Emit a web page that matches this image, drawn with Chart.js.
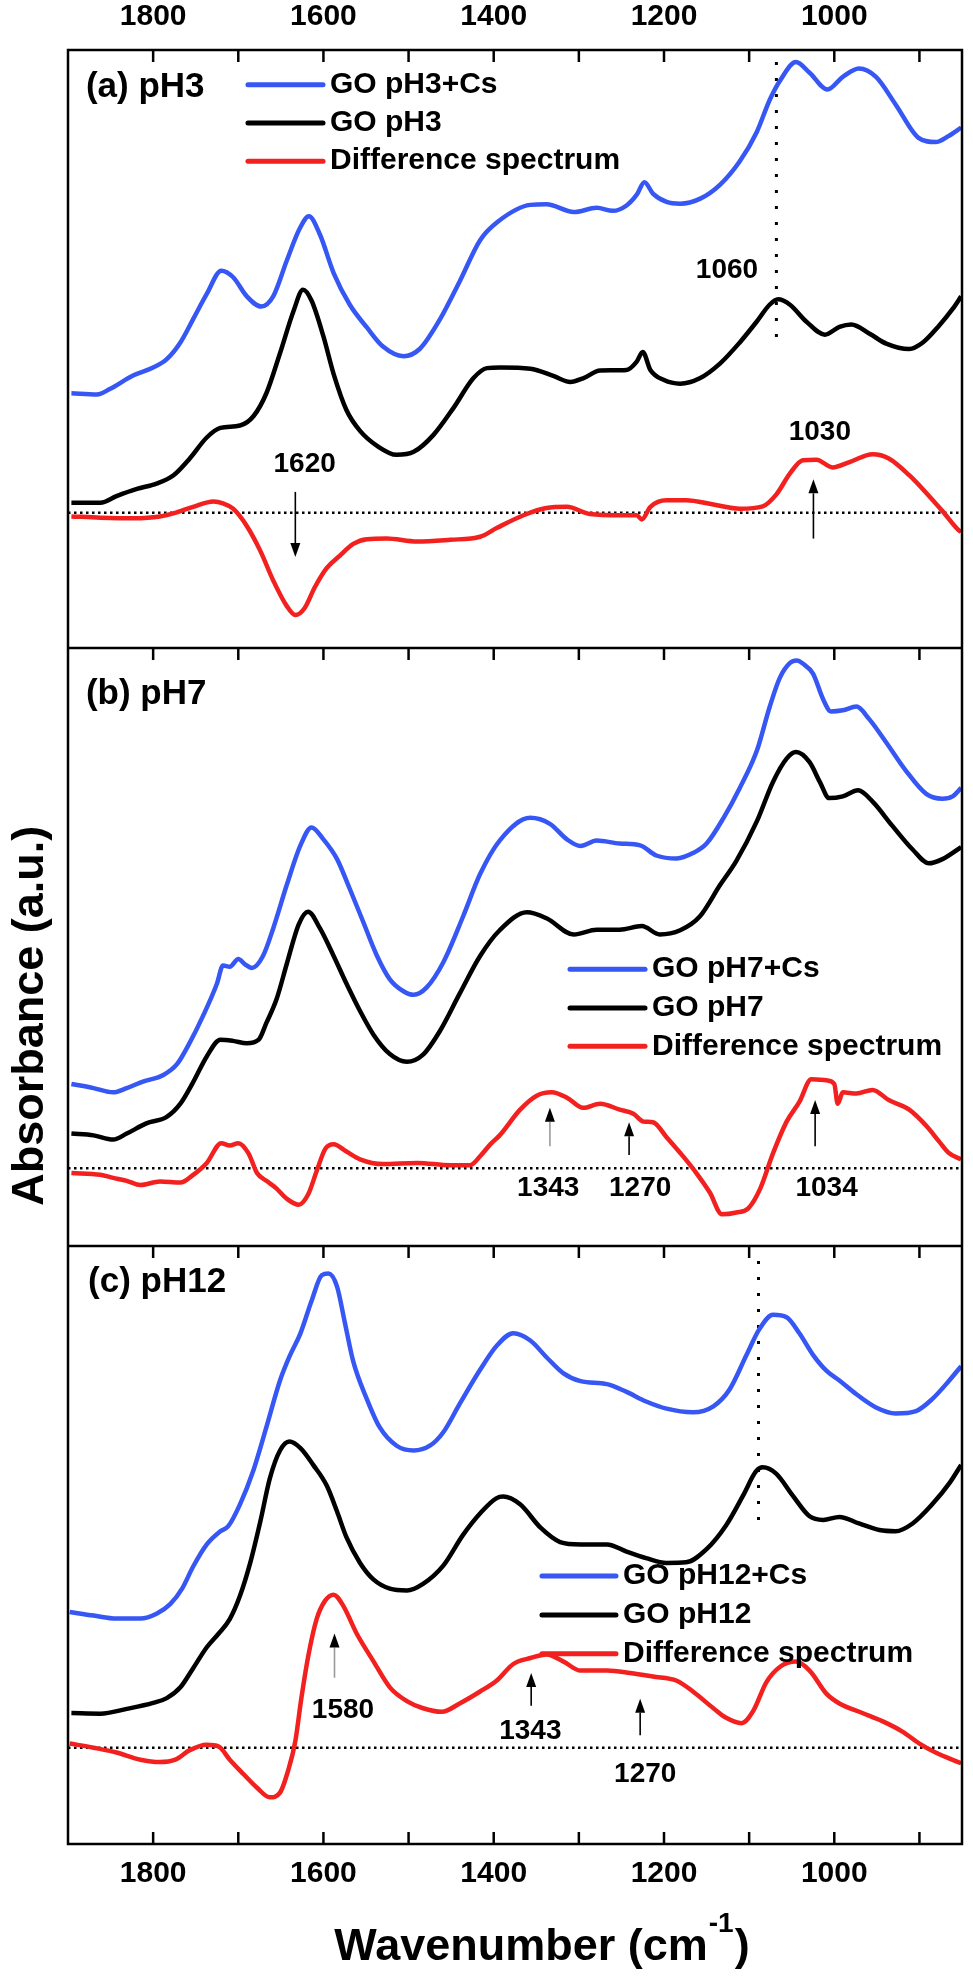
<!DOCTYPE html>
<html>
<head>
<meta charset="utf-8">
<script src="https://cdn.jsdelivr.net/npm/chart.js@4.4.1/dist/chart.umd.min.js"></script>
<style>
html,body{margin:0;padding:0;background:#fff;}
#wrap{width:973px;height:1976px;position:relative;}
canvas{display:block;}
</style>
</head>
<body>
<div id="wrap"><canvas id="c" width="973" height="1976" style="width:973px;height:1976px"></canvas></div>
<script>
// ---------------- data (wavenumber cm-1, absorbance a.u. within each panel) ----------------
const tickValues = [1800, 1600, 1400, 1200, 1000];
const minorTickValues = [1800, 1700, 1600, 1500, 1400, 1300, 1200, 1100, 1000, 900];
const seriesNames = ['GO pH3+Cs', 'GO pH3', 'Difference spectrum',
                     'GO pH7+Cs', 'GO pH7', 'Difference spectrum',
                     'GO pH12+Cs', 'GO pH12', 'Difference spectrum'];
const panelNames = ['(a) pH3', '(b) pH7', '(c) pH12'];

const pH3_Cs = [[1896,4.26],[1866,4.24],[1851,4.33],[1823,4.56],[1800,4.69],[1784,4.83],[1768,5.11],[1753,5.50],[1737,5.92],[1720,6.31],[1706,6.20],[1690,5.88],[1673,5.71],[1659,5.88],[1643,6.48],[1628,7.01],[1617,7.22],[1604,6.91],[1588,6.27],[1569,5.74],[1549,5.36],[1530,5.04],[1506,4.88],[1487,5.00],[1463,5.50],[1440,6.13],[1416,6.82],[1396,7.12],[1357,7.41],[1338,7.42],[1306,7.29],[1279,7.36],[1260,7.31],[1244,7.40],[1232,7.58],[1223,7.79],[1213,7.60],[1197,7.46],[1181,7.43],[1158,7.51],[1134,7.75],[1111,8.14],[1091,8.63],[1076,9.16],[1064,9.48],[1045,9.80],[1029,9.62],[1008,9.34],[990,9.55],[971,9.69],[951,9.55],[928,9.09],[901,8.53],[881,8.46],[866,8.56],[851,8.70]];
const pH3_GO = [[1896,2.43],[1862,2.43],[1843,2.54],[1819,2.66],[1796,2.75],[1776,2.89],[1757,3.17],[1737,3.52],[1721,3.68],[1698,3.72],[1682,3.88],[1667,4.26],[1651,4.93],[1635,5.64],[1624,5.99],[1614,5.81],[1600,5.21],[1588,4.58],[1573,3.98],[1557,3.63],[1537,3.38],[1514,3.23],[1494,3.28],[1471,3.56],[1447,4.02],[1424,4.51],[1408,4.68],[1392,4.69],[1357,4.67],[1330,4.55],[1310,4.45],[1295,4.51],[1275,4.64],[1244,4.65],[1232,4.79],[1225,4.95],[1216,4.65],[1200,4.48],[1181,4.42],[1158,4.51],[1134,4.76],[1111,5.11],[1091,5.46],[1076,5.74],[1066,5.83],[1052,5.74],[1033,5.46],[1011,5.24],[994,5.37],[980,5.41],[958,5.25],[939,5.09],[912,5.00],[896,5.11],[877,5.39],[861,5.67],[851,5.88]];
const pH3_diff = [[1896,2.20],[1862,2.18],[1823,2.17],[1792,2.20],[1772,2.27],[1753,2.36],[1729,2.45],[1718,2.42],[1706,2.33],[1690,2.04],[1674,1.62],[1659,1.13],[1643,0.70],[1633,0.55],[1622,0.67],[1610,1.02],[1596,1.34],[1581,1.54],[1565,1.74],[1549,1.82],[1526,1.83],[1490,1.78],[1451,1.81],[1416,1.86],[1396,2.01],[1365,2.22],[1338,2.34],[1314,2.36],[1287,2.24],[1252,2.22],[1232,2.22],[1226,2.15],[1216,2.36],[1197,2.47],[1174,2.47],[1142,2.40],[1111,2.33],[1084,2.37],[1068,2.57],[1052,2.92],[1037,3.14],[1021,3.15],[1002,3.02],[982,3.11],[955,3.24],[936,3.17],[912,2.89],[893,2.61],[873,2.29],[854,1.97],[851,1.94]];

const pH7_Cs = [[1896,2.71],[1870,2.64],[1847,2.57],[1831,2.64],[1812,2.75],[1788,2.86],[1772,3.04],[1757,3.40],[1741,3.86],[1725,4.39],[1718,4.69],[1710,4.67],[1700,4.80],[1692,4.71],[1684,4.65],[1671,4.85],[1659,5.31],[1643,6.04],[1627,6.70],[1614,7.00],[1600,6.80],[1584,6.47],[1569,5.97],[1553,5.41],[1537,4.85],[1522,4.46],[1506,4.26],[1494,4.20],[1479,4.32],[1459,4.75],[1436,5.51],[1416,6.22],[1393,6.78],[1357,7.16],[1334,7.06],[1314,6.80],[1298,6.69],[1279,6.78],[1252,6.73],[1228,6.70],[1209,6.53],[1185,6.48],[1166,6.57],[1150,6.73],[1130,7.16],[1111,7.66],[1091,8.28],[1076,9.01],[1064,9.50],[1052,9.75],[1044,9.79],[1037,9.74],[1025,9.57],[1013,9.14],[1004,8.94],[990,8.96],[974,9.02],[959,8.81],[939,8.42],[916,7.95],[892,7.56],[873,7.48],[861,7.52],[851,7.66]];
const pH7_GO = [[1896,1.88],[1870,1.85],[1847,1.78],[1831,1.88],[1808,2.05],[1784,2.16],[1768,2.38],[1753,2.74],[1737,3.17],[1721,3.45],[1706,3.43],[1690,3.39],[1676,3.45],[1667,3.73],[1655,4.13],[1643,4.72],[1629,5.38],[1618,5.59],[1604,5.31],[1588,4.85],[1573,4.39],[1557,3.93],[1541,3.53],[1522,3.21],[1502,3.08],[1483,3.20],[1463,3.60],[1440,4.22],[1416,4.85],[1393,5.28],[1361,5.58],[1338,5.48],[1306,5.21],[1279,5.29],[1252,5.29],[1226,5.35],[1205,5.21],[1181,5.28],[1158,5.51],[1134,6.04],[1115,6.44],[1091,7.10],[1072,7.76],[1056,8.15],[1045,8.26],[1029,8.09],[1017,7.76],[1006,7.49],[990,7.52],[972,7.62],[955,7.43],[932,7.03],[908,6.63],[889,6.40],[873,6.47],[851,6.67]];
const pH7_diff = [[1896,1.22],[1862,1.19],[1847,1.14],[1831,1.09],[1815,1.02],[1792,1.08],[1768,1.06],[1753,1.19],[1737,1.39],[1720,1.72],[1710,1.68],[1700,1.72],[1688,1.55],[1678,1.22],[1667,1.09],[1655,0.96],[1643,0.79],[1629,0.69],[1618,0.86],[1608,1.25],[1598,1.62],[1588,1.70],[1573,1.58],[1557,1.45],[1530,1.37],[1490,1.39],[1451,1.35],[1428,1.35],[1416,1.50],[1404,1.70],[1393,1.85],[1369,2.28],[1350,2.51],[1332,2.57],[1314,2.48],[1295,2.31],[1275,2.38],[1252,2.28],[1236,2.21],[1224,2.08],[1213,2.07],[1197,1.82],[1177,1.49],[1162,1.22],[1146,0.89],[1132,0.53],[1115,0.56],[1101,0.63],[1087,0.96],[1072,1.55],[1056,2.08],[1041,2.41],[1027,2.79],[1009,2.77],[1000,2.71],[996,2.38],[990,2.57],[974,2.55],[955,2.61],[936,2.44],[912,2.28],[892,2.01],[877,1.75],[865,1.55],[851,1.45]];

const pH12_Cs = [[1898,3.88],[1870,3.82],[1843,3.77],[1815,3.77],[1796,3.85],[1780,4.01],[1766,4.27],[1753,4.64],[1737,5.01],[1721,5.23],[1712,5.31],[1698,5.68],[1682,6.26],[1667,6.97],[1651,7.75],[1639,8.18],[1627,8.54],[1614,9.08],[1602,9.51],[1594,9.54],[1584,9.32],[1575,8.73],[1565,8.07],[1549,7.44],[1534,6.97],[1514,6.66],[1494,6.58],[1475,6.66],[1459,6.89],[1440,7.36],[1416,7.93],[1396,8.34],[1377,8.54],[1357,8.42],[1338,8.14],[1318,7.87],[1298,7.74],[1267,7.69],[1244,7.56],[1221,7.40],[1197,7.28],[1166,7.22],[1142,7.32],[1123,7.60],[1103,8.18],[1088,8.61],[1072,8.85],[1056,8.81],[1041,8.54],[1025,8.18],[1009,7.91],[994,7.75],[974,7.52],[951,7.30],[928,7.20],[904,7.24],[885,7.44],[865,7.75],[851,7.99]];
const pH12_GO = [[1896,2.19],[1862,2.18],[1831,2.26],[1800,2.36],[1784,2.44],[1768,2.62],[1753,2.94],[1737,3.29],[1723,3.52],[1710,3.76],[1698,4.15],[1686,4.70],[1674,5.40],[1663,6.11],[1651,6.58],[1640,6.73],[1627,6.62],[1612,6.34],[1596,5.99],[1584,5.56],[1573,5.13],[1557,4.70],[1541,4.42],[1522,4.27],[1502,4.24],[1483,4.35],[1459,4.66],[1436,5.17],[1414,5.56],[1397,5.78],[1389,5.81],[1369,5.68],[1345,5.29],[1322,5.05],[1298,5.01],[1267,5.01],[1244,4.89],[1221,4.78],[1197,4.70],[1174,4.71],[1150,4.93],[1127,5.33],[1107,5.83],[1092,6.23],[1084,6.30],[1068,6.19],[1049,5.83],[1029,5.48],[1013,5.42],[994,5.47],[971,5.36],[947,5.25],[928,5.23],[908,5.36],[885,5.68],[865,6.03],[851,6.34]];
const pH12_diff = [[1898,1.68],[1870,1.61],[1843,1.53],[1815,1.41],[1792,1.37],[1774,1.41],[1757,1.57],[1737,1.66],[1723,1.63],[1710,1.41],[1694,1.17],[1678,0.94],[1663,0.78],[1651,0.86],[1641,1.25],[1633,1.72],[1626,2.43],[1618,3.13],[1608,3.76],[1598,4.07],[1588,4.17],[1577,3.99],[1561,3.52],[1541,3.05],[1522,2.62],[1502,2.39],[1483,2.27],[1461,2.21],[1440,2.35],[1416,2.55],[1396,2.74],[1377,3.01],[1357,3.11],[1338,3.17],[1318,3.05],[1298,2.90],[1267,2.90],[1240,2.86],[1213,2.80],[1185,2.73],[1166,2.55],[1142,2.27],[1127,2.11],[1109,2.02],[1095,2.23],[1080,2.70],[1064,2.96],[1045,3.05],[1029,2.90],[1009,2.51],[994,2.35],[967,2.19],[943,2.05],[920,1.88],[900,1.68],[881,1.53],[851,1.35]];

// zero (baseline) level of each difference spectrum and marker lines
const zeroLevels = [2.26, 1.30, 1.61];          // panels a, b, c
const markerLineA = [[1068, 9.80], [1068, 5.13]]; // dotted line at the 1060 band (panel a)
const markerLineC = [[1089, 9.75], [1089, 5.32]]; // dotted line (panel c)

// peak annotations: [text, wavenumber, level]  and arrows: [wavenumber, tail level, head level, grey shaft]
const peakLabelsA = [['1620', 1622, 3.07], ['1030', 1017, 3.61], ['1060', 1126, 6.31]];
const peakLabelsB = [['1343', 1336, 0.97], ['1270', 1228, 0.97], ['1034', 1009, 0.97]];
const peakLabelsC = [['1580', 1577, 2.23], ['1343', 1357, 1.88], ['1270', 1222, 1.17]];
const arrowsA = [[1633, 2.61, 1.52, false], [1024.5, 1.83, 2.82, false]];
const arrowsB = [[1334, 1.67, 2.31, true], [1241, 1.52, 2.07, false], [1022.5, 1.67, 2.44, false]];
const arrowsC = [[1587, 2.78, 3.52, true], [1356, 2.31, 2.86, false], [1228, 1.82, 2.43, false]];

// ---------------- layout / style ----------------
const FONT = '"Liberation Sans", Arial, Helvetica, sans-serif';
const BLUE = '#3657f4', BLACK = '#000000', RED = '#f2201e';
const PANEL = 10;                    // each panel spans 10 a.u.
const offsets = [2 * PANEL, PANEL, 0]; // a, b, c
const X_MIN = 850, X_MAX = 1900;

const curves = [pH3_Cs, pH3_GO, pH3_diff, pH7_Cs, pH7_GO, pH7_diff, pH12_Cs, pH12_GO, pH12_diff];
const colors = [BLUE, BLACK, RED];

const datasets = curves.map((c, i) => ({
  label: seriesNames[i],
  data: c.map(([w, v]) => ({x: w, y: v + offsets[Math.floor(i / 3)]})),
  borderColor: colors[i % 3],
  borderWidth: 4.5,
  pointRadius: 0,
  fill: false,
  cubicInterpolationMode: 'monotone'
}));
zeroLevels.forEach((z, p) => datasets.push({
  label: 'zero', data: [{x: X_MAX, y: z + offsets[p]}, {x: X_MIN, y: z + offsets[p]}],
  borderColor: '#000', borderWidth: 2.5, borderDash: [2.5, 3.5], pointRadius: 0, fill: false
}));
[[markerLineA, 0], [markerLineC, 2]].forEach(([ln, p]) => datasets.push({
  label: 'marker', data: ln.map(([w, v]) => ({x: w, y: v + offsets[p]})),
  borderColor: '#000', borderWidth: 3, borderDash: [3, 13], pointRadius: 0, fill: false
}));

const legendPos = [
  {w1: 1688.6, w2: 1600.5, rows: [9.42, 8.78, 8.14]},
  {w1: 1310.4, w2: 1222.3, rows: [4.63, 3.98, 3.34]},
  {w1: 1343.3, w2: 1256.4, rows: [4.48, 3.83, 3.18]}
];
const panelLabelPos = [[1879, 9.37], [1879, 9.23], [1876.5, 9.40]];

const decorPlugin = {
  id: 'decor',
  afterDatasetsDraw(chart) {
    const {ctx, chartArea: ca, scales: {x, y}} = chart;
    const X = w => x.getPixelForValue(w);
    const Y = v => y.getPixelForValue(v);
    ctx.save();
    // frame and panel separators
    ctx.strokeStyle = '#000';
    ctx.lineWidth = 2.5;
    ctx.strokeRect(ca.left, ca.top, ca.right - ca.left, ca.bottom - ca.top);
    [PANEL, 2 * PANEL].forEach(v => {
      ctx.beginPath(); ctx.moveTo(ca.left, Y(v)); ctx.lineTo(ca.right, Y(v)); ctx.stroke();
    });
    // inward ticks: top of every panel and bottom of the last one
    const TL = 12;
    ctx.lineWidth = 2.5;
    minorTickValues.forEach(t => {
      const px = X(t);
      [3 * PANEL, 2 * PANEL, PANEL].forEach(v => {
        ctx.beginPath(); ctx.moveTo(px, Y(v)); ctx.lineTo(px, Y(v) + TL); ctx.stroke();
      });
      ctx.beginPath(); ctx.moveTo(px, Y(0)); ctx.lineTo(px, Y(0) - TL); ctx.stroke();
    });
    // panel labels
    ctx.fillStyle = '#000';
    ctx.textBaseline = 'middle';
    ctx.textAlign = 'left';
    ctx.font = 'bold 35px ' + FONT;
    panelLabelPos.forEach(([w, v], p) => ctx.fillText(panelNames[p], X(w), Y(v + offsets[p])));
    // legends
    ctx.font = 'bold 30px ' + FONT;
    legendPos.forEach((lg, p) => {
      lg.rows.forEach((r, k) => {
        const py = Y(r + offsets[p]);
        ctx.strokeStyle = colors[k];
        ctx.lineWidth = 5;
        ctx.lineCap = 'round';
        ctx.beginPath(); ctx.moveTo(X(lg.w1), py); ctx.lineTo(X(lg.w2), py); ctx.stroke();
        ctx.fillStyle = '#000';
        ctx.fillText(seriesNames[p * 3 + k], X(lg.w2) + 7, py);
      });
    });
    ctx.lineCap = 'butt';
    // peak labels
    ctx.font = 'bold 28px ' + FONT;
    ctx.textAlign = 'center';
    [peakLabelsA, peakLabelsB, peakLabelsC].forEach((arr, p) => arr.forEach(([t, w, v]) => {
      ctx.fillText(t, X(w), Y(v + offsets[p]));
    }));
    // arrows
    [arrowsA, arrowsB, arrowsC].forEach((arr, p) => arr.forEach(([w, a, b, grey]) => {
      const px = X(w), y1 = Y(a + offsets[p]), y2 = Y(b + offsets[p]);
      const dir = Math.sign(y2 - y1), HL = 14, HW = 5;
      ctx.strokeStyle = grey ? '#9a9a9a' : '#000';
      ctx.lineWidth = 1.6;
      ctx.beginPath(); ctx.moveTo(px, y1); ctx.lineTo(px, y2 - dir * HL); ctx.stroke();
      ctx.fillStyle = '#000';
      ctx.beginPath(); ctx.moveTo(px, y2); ctx.lineTo(px - HW, y2 - dir * HL); ctx.lineTo(px + HW, y2 - dir * HL); ctx.closePath(); ctx.fill();
    }));
    // axis titles
    ctx.fillStyle = '#000';
    ctx.textAlign = 'left';
    ctx.textBaseline = 'alphabetic';
    const big = 'bold 45px ' + FONT, small = 'bold 28px ' + FONT;
    const t1 = 'Wavenumber (cm', t2 = '-1', t3 = ')';
    ctx.font = big; const w1 = ctx.measureText(t1).width, w3 = ctx.measureText(t3).width;
    ctx.font = small; const w2 = ctx.measureText(t2).width;
    const total = w1 + w2 + w3 + 2;
    const cx = (ca.left + ca.right) / 2 + 27;
    let sx = cx - total / 2;
    const base = ca.bottom + 116;
    ctx.font = big; ctx.fillText(t1, sx, base);
    ctx.font = small; ctx.fillText(t2, sx + w1 + 1, base - 28);
    ctx.font = big; ctx.fillText(t3, sx + w1 + w2 + 2, base);
    ctx.save();
    ctx.translate(31, Y(13.85));
    ctx.rotate(-Math.PI / 2);
    ctx.textAlign = 'center';
    ctx.textBaseline = 'middle';
    ctx.font = big;
    ctx.fillText('Absorbance (a.u.)', 0, 0);
    ctx.restore();
    ctx.restore();
  }
};

const tickFont = {family: FONT, size: 30, weight: 'bold'};
const setTicks = s => { s.ticks = tickValues.map(v => ({value: v})); };

new Chart(document.getElementById('c').getContext('2d'), {
  type: 'line',
  data: {datasets},
  options: {
    responsive: false,
    animation: false,
    devicePixelRatio: 1,
    layout: {padding: {left: 0, right: 11, top: 0, bottom: 0}},
    plugins: {legend: {display: false}, tooltip: {enabled: false}},
    scales: {
      x: {
        type: 'linear', position: 'bottom', min: X_MIN, max: X_MAX, reverse: true,
        grid: {display: false, drawTicks: false}, border: {display: false},
        ticks: {font: tickFont, color: '#000', padding: 12, maxRotation: 0, autoSkip: false, callback: v => String(v)},
        afterBuildTicks: setTicks,
        afterFit: s => { s.height = 132; }
      },
      xTop: {
        type: 'linear', position: 'top', min: X_MIN, max: X_MAX, reverse: true,
        grid: {display: false, drawTicks: false}, border: {display: false},
        ticks: {font: tickFont, color: '#000', padding: 15, maxRotation: 0, autoSkip: false, callback: v => String(v)},
        afterBuildTicks: setTicks,
        afterFit: s => { s.height = 50; }
      },
      y: {
        type: 'linear', min: 0, max: 3 * PANEL,
        ticks: {display: false}, grid: {display: false, drawTicks: false}, border: {display: false},
        afterFit: s => { s.width = 68; }
      }
    }
  },
  plugins: [decorPlugin]
});
</script>
</body>
</html>
